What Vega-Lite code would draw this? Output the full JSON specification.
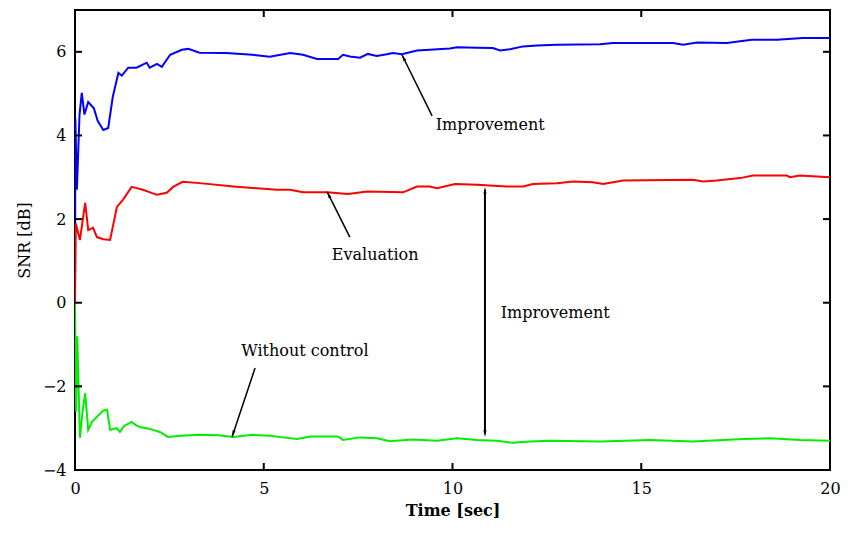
{
  "$schema": "https://vega.github.io/schema/vega-lite/v6.json",
  "width": 755,
  "height": 460,
  "autosize": {"type": "none"},
  "padding": {"left": 75, "top": 10, "right": 23, "bottom": 68},
  "background": "white",
  "config": {
    "view": {"stroke": "black", "strokeWidth": 2},
    "font": "DejaVu Serif",
    "axis": {"grid": false, "domain": false, "ticks": false, "labelFont": "DejaVu Serif", "labelFontSize": 16, "labelColor": "black", "titleFont": "DejaVu Serif", "titleFontSize": 16, "titleColor": "black"}
  },
  "datasets": {
    "xt": [{"v": 0}, {"v": 5}, {"v": 10}, {"v": 15}, {"v": 20}],
    "yt": [{"v": -4}, {"v": -2}, {"v": 0}, {"v": 2}, {"v": 4}, {"v": 6}],
    "curves": [
      {"t": 0, "snr": 0, "s": "Improvement"},
      {"t": 0.01, "snr": 4.4, "s": "Improvement"},
      {"t": 0.05, "snr": 2.7, "s": "Improvement"},
      {"t": 0.12, "snr": 4.5, "s": "Improvement"},
      {"t": 0.18, "snr": 5.02, "s": "Improvement"},
      {"t": 0.25, "snr": 4.5, "s": "Improvement"},
      {"t": 0.35, "snr": 4.8, "s": "Improvement"},
      {"t": 0.5, "snr": 4.65, "s": "Improvement"},
      {"t": 0.6, "snr": 4.35, "s": "Improvement"},
      {"t": 0.75, "snr": 4.13, "s": "Improvement"},
      {"t": 0.88, "snr": 4.18, "s": "Improvement"},
      {"t": 1.0, "snr": 4.92, "s": "Improvement"},
      {"t": 1.15, "snr": 5.5, "s": "Improvement"},
      {"t": 1.24, "snr": 5.43, "s": "Improvement"},
      {"t": 1.41, "snr": 5.62, "s": "Improvement"},
      {"t": 1.63, "snr": 5.62, "s": "Improvement"},
      {"t": 1.9, "snr": 5.74, "s": "Improvement"},
      {"t": 1.98, "snr": 5.62, "s": "Improvement"},
      {"t": 2.17, "snr": 5.71, "s": "Improvement"},
      {"t": 2.3, "snr": 5.64, "s": "Improvement"},
      {"t": 2.52, "snr": 5.93, "s": "Improvement"},
      {"t": 2.83, "snr": 6.05, "s": "Improvement"},
      {"t": 3.0, "snr": 6.07, "s": "Improvement"},
      {"t": 3.3, "snr": 5.98, "s": "Improvement"},
      {"t": 4.0, "snr": 5.97, "s": "Improvement"},
      {"t": 4.7, "snr": 5.93, "s": "Improvement"},
      {"t": 5.16, "snr": 5.88, "s": "Improvement"},
      {"t": 5.7, "snr": 5.97, "s": "Improvement"},
      {"t": 6.04, "snr": 5.93, "s": "Improvement"},
      {"t": 6.41, "snr": 5.83, "s": "Improvement"},
      {"t": 6.97, "snr": 5.83, "s": "Improvement"},
      {"t": 7.1, "snr": 5.93, "s": "Improvement"},
      {"t": 7.28, "snr": 5.89, "s": "Improvement"},
      {"t": 7.55, "snr": 5.86, "s": "Improvement"},
      {"t": 7.76, "snr": 5.95, "s": "Improvement"},
      {"t": 7.99, "snr": 5.9, "s": "Improvement"},
      {"t": 8.26, "snr": 5.94, "s": "Improvement"},
      {"t": 8.42, "snr": 5.97, "s": "Improvement"},
      {"t": 8.66, "snr": 5.94, "s": "Improvement"},
      {"t": 9.06, "snr": 6.03, "s": "Improvement"},
      {"t": 9.4, "snr": 6.05, "s": "Improvement"},
      {"t": 9.93, "snr": 6.08, "s": "Improvement"},
      {"t": 10.12, "snr": 6.11, "s": "Improvement"},
      {"t": 10.65, "snr": 6.1, "s": "Improvement"},
      {"t": 11.07, "snr": 6.09, "s": "Improvement"},
      {"t": 11.26, "snr": 6.03, "s": "Improvement"},
      {"t": 11.52, "snr": 6.06, "s": "Improvement"},
      {"t": 11.87, "snr": 6.13, "s": "Improvement"},
      {"t": 12.24, "snr": 6.15, "s": "Improvement"},
      {"t": 12.77, "snr": 6.17, "s": "Improvement"},
      {"t": 13.91, "snr": 6.18, "s": "Improvement"},
      {"t": 14.25, "snr": 6.21, "s": "Improvement"},
      {"t": 14.89, "snr": 6.21, "s": "Improvement"},
      {"t": 15.84, "snr": 6.21, "s": "Improvement"},
      {"t": 16.11, "snr": 6.17, "s": "Improvement"},
      {"t": 16.48, "snr": 6.22, "s": "Improvement"},
      {"t": 17.27, "snr": 6.21, "s": "Improvement"},
      {"t": 17.62, "snr": 6.25, "s": "Improvement"},
      {"t": 17.93, "snr": 6.29, "s": "Improvement"},
      {"t": 18.6, "snr": 6.29, "s": "Improvement"},
      {"t": 19.28, "snr": 6.33, "s": "Improvement"},
      {"t": 20, "snr": 6.33, "s": "Improvement"},

      {"t": 0, "snr": 0, "s": "Evaluation"},
      {"t": 0.02, "snr": 1.9, "s": "Evaluation"},
      {"t": 0.13, "snr": 1.5, "s": "Evaluation"},
      {"t": 0.27, "snr": 2.39, "s": "Evaluation"},
      {"t": 0.35, "snr": 1.74, "s": "Evaluation"},
      {"t": 0.48, "snr": 1.79, "s": "Evaluation"},
      {"t": 0.58, "snr": 1.57, "s": "Evaluation"},
      {"t": 0.75, "snr": 1.52, "s": "Evaluation"},
      {"t": 0.93, "snr": 1.5, "s": "Evaluation"},
      {"t": 1.11, "snr": 2.29, "s": "Evaluation"},
      {"t": 1.27, "snr": 2.46, "s": "Evaluation"},
      {"t": 1.5, "snr": 2.77, "s": "Evaluation"},
      {"t": 1.8, "snr": 2.7, "s": "Evaluation"},
      {"t": 2.17, "snr": 2.58, "s": "Evaluation"},
      {"t": 2.43, "snr": 2.63, "s": "Evaluation"},
      {"t": 2.6, "snr": 2.77, "s": "Evaluation"},
      {"t": 2.85, "snr": 2.89, "s": "Evaluation"},
      {"t": 3.3, "snr": 2.86, "s": "Evaluation"},
      {"t": 4.2, "snr": 2.78, "s": "Evaluation"},
      {"t": 5.35, "snr": 2.7, "s": "Evaluation"},
      {"t": 5.7, "snr": 2.7, "s": "Evaluation"},
      {"t": 6.04, "snr": 2.64, "s": "Evaluation"},
      {"t": 6.68, "snr": 2.64, "s": "Evaluation"},
      {"t": 7.23, "snr": 2.6, "s": "Evaluation"},
      {"t": 7.74, "snr": 2.66, "s": "Evaluation"},
      {"t": 8.69, "snr": 2.64, "s": "Evaluation"},
      {"t": 9.06, "snr": 2.78, "s": "Evaluation"},
      {"t": 9.4, "snr": 2.78, "s": "Evaluation"},
      {"t": 9.59, "snr": 2.74, "s": "Evaluation"},
      {"t": 10.07, "snr": 2.84, "s": "Evaluation"},
      {"t": 10.65, "snr": 2.82, "s": "Evaluation"},
      {"t": 11.44, "snr": 2.78, "s": "Evaluation"},
      {"t": 11.87, "snr": 2.78, "s": "Evaluation"},
      {"t": 12.13, "snr": 2.84, "s": "Evaluation"},
      {"t": 12.77, "snr": 2.86, "s": "Evaluation"},
      {"t": 13.19, "snr": 2.9, "s": "Evaluation"},
      {"t": 13.72, "snr": 2.88, "s": "Evaluation"},
      {"t": 13.99, "snr": 2.84, "s": "Evaluation"},
      {"t": 14.52, "snr": 2.92, "s": "Evaluation"},
      {"t": 16.37, "snr": 2.94, "s": "Evaluation"},
      {"t": 16.64, "snr": 2.9, "s": "Evaluation"},
      {"t": 17.0, "snr": 2.92, "s": "Evaluation"},
      {"t": 17.62, "snr": 2.98, "s": "Evaluation"},
      {"t": 17.96, "snr": 3.04, "s": "Evaluation"},
      {"t": 18.86, "snr": 3.04, "s": "Evaluation"},
      {"t": 18.94, "snr": 3.0, "s": "Evaluation"},
      {"t": 19.2, "snr": 3.04, "s": "Evaluation"},
      {"t": 20, "snr": 3.0, "s": "Evaluation"},

      {"t": 0, "snr": 0, "s": "Without control"},
      {"t": 0.03, "snr": -2.6, "s": "Without control"},
      {"t": 0.06, "snr": -0.8, "s": "Without control"},
      {"t": 0.13, "snr": -3.23, "s": "Without control"},
      {"t": 0.2, "snr": -2.6, "s": "Without control"},
      {"t": 0.27, "snr": -2.16, "s": "Without control"},
      {"t": 0.35, "snr": -3.04, "s": "Without control"},
      {"t": 0.45, "snr": -2.85, "s": "Without control"},
      {"t": 0.58, "snr": -2.73, "s": "Without control"},
      {"t": 0.75, "snr": -2.58, "s": "Without control"},
      {"t": 0.85, "snr": -2.56, "s": "Without control"},
      {"t": 0.93, "snr": -3.04, "s": "Without control"},
      {"t": 1.1, "snr": -3.0, "s": "Without control"},
      {"t": 1.19, "snr": -3.09, "s": "Without control"},
      {"t": 1.3, "snr": -2.95, "s": "Without control"},
      {"t": 1.5, "snr": -2.85, "s": "Without control"},
      {"t": 1.6, "snr": -2.92, "s": "Without control"},
      {"t": 1.72, "snr": -2.97, "s": "Without control"},
      {"t": 1.9, "snr": -3.0, "s": "Without control"},
      {"t": 2.07, "snr": -3.04, "s": "Without control"},
      {"t": 2.25, "snr": -3.09, "s": "Without control"},
      {"t": 2.46, "snr": -3.21, "s": "Without control"},
      {"t": 2.8, "snr": -3.18, "s": "Without control"},
      {"t": 3.3, "snr": -3.16, "s": "Without control"},
      {"t": 3.8, "snr": -3.17, "s": "Without control"},
      {"t": 4.2, "snr": -3.21, "s": "Without control"},
      {"t": 4.7, "snr": -3.16, "s": "Without control"},
      {"t": 5.17, "snr": -3.18, "s": "Without control"},
      {"t": 5.51, "snr": -3.22, "s": "Without control"},
      {"t": 5.88, "snr": -3.26, "s": "Without control"},
      {"t": 6.23, "snr": -3.2, "s": "Without control"},
      {"t": 6.97, "snr": -3.2, "s": "Without control"},
      {"t": 7.1, "snr": -3.28, "s": "Without control"},
      {"t": 7.55, "snr": -3.22, "s": "Without control"},
      {"t": 8.0, "snr": -3.24, "s": "Without control"},
      {"t": 8.34, "snr": -3.31, "s": "Without control"},
      {"t": 8.95, "snr": -3.27, "s": "Without control"},
      {"t": 9.59, "snr": -3.3, "s": "Without control"},
      {"t": 10.12, "snr": -3.24, "s": "Without control"},
      {"t": 10.65, "snr": -3.28, "s": "Without control"},
      {"t": 11.18, "snr": -3.3, "s": "Without control"},
      {"t": 11.6, "snr": -3.35, "s": "Without control"},
      {"t": 12.05, "snr": -3.32, "s": "Without control"},
      {"t": 12.58, "snr": -3.3, "s": "Without control"},
      {"t": 13.91, "snr": -3.32, "s": "Without control"},
      {"t": 15.23, "snr": -3.28, "s": "Without control"},
      {"t": 16.37, "snr": -3.32, "s": "Without control"},
      {"t": 17.7, "snr": -3.26, "s": "Without control"},
      {"t": 18.41, "snr": -3.24, "s": "Without control"},
      {"t": 19.2, "snr": -3.28, "s": "Without control"},
      {"t": 20, "snr": -3.3, "s": "Without control"}
    ],
    "arrows": [
      {"x1": 9.46, "y1": 4.47, "x2": 8.66, "y2": 5.93, "w": 1.5},
      {"x1": 7.28, "y1": 1.57, "x2": 6.68, "y2": 2.65, "w": 1.5},
      {"x1": 10.86, "y1": 2.7, "x2": 10.86, "y2": -3.14, "w": 2},
      {"x1": 4.77, "y1": -1.56, "x2": 4.16, "y2": -3.21, "w": 1.5}
    ],
    "heads": [
      {"x": 8.66, "y": 5.93, "angle": 333},
      {"x": 6.68, "y": 2.65, "angle": 333},
      {"x": 10.86, "y": 2.77, "angle": 0},
      {"x": 10.86, "y": -3.21, "angle": 180},
      {"x": 4.16, "y": -3.21, "angle": 198}
    ],
    "labels": [
      {"x": 11.0, "y": 4.25, "text": "Improvement"},
      {"x": 7.95, "y": 1.14, "text": "Evaluation"},
      {"x": 12.72, "y": -0.24, "text": "Improvement"},
      {"x": 6.09, "y": -1.15, "text": "Without control"}
    ]
  },
  "layer": [
    {
      "data": {"name": "curves"},
      "mark": {"type": "line", "strokeWidth": 2, "clip": true},
      "encoding": {
        "x": {"field": "t", "type": "quantitative", "scale": {"domain": [0, 20], "nice": false}, "axis": {"orient": "bottom", "title": "Time [sec]", "titleFontWeight": "bold", "values": [0, 5, 10, 15, 20], "labelPadding": 10, "titlePadding": 6, "labelFlush": false}},
        "y": {"field": "snr", "type": "quantitative", "scale": {"domain": [-4, 7], "nice": false, "zero": false}, "axis": {"orient": "left", "title": "SNR [dB]", "titleFontWeight": "normal", "values": [-4, -2, 0, 2, 4, 6], "labelPadding": 9, "titlePadding": 10}},
        "color": {"field": "s", "type": "nominal", "scale": {"domain": ["Improvement", "Evaluation", "Without control"], "range": ["#0000ff", "#ff0000", "#00ee00"]}, "legend": null},
        "detail": {"field": "s"}
      }
    },
    {
      "data": {"name": "xt"},
      "mark": {"type": "tick", "orient": "vertical", "size": 14, "thickness": 2, "color": "black", "opacity": 1, "clip": true},
      "encoding": {
        "x": {"field": "v", "type": "quantitative", "axis": null},
        "y": {"datum": -4, "type": "quantitative", "axis": null}
      }
    },
    {
      "data": {"name": "xt"},
      "mark": {"type": "tick", "orient": "vertical", "size": 14, "thickness": 2, "color": "black", "opacity": 1, "clip": true},
      "encoding": {
        "x": {"field": "v", "type": "quantitative", "axis": null},
        "y": {"datum": 7, "type": "quantitative", "axis": null}
      }
    },
    {
      "data": {"name": "yt"},
      "mark": {"type": "tick", "orient": "horizontal", "size": 14, "thickness": 2, "color": "black", "opacity": 1, "clip": true},
      "encoding": {
        "y": {"field": "v", "type": "quantitative", "axis": null},
        "x": {"datum": 0, "type": "quantitative", "axis": null}
      }
    },
    {
      "data": {"name": "yt"},
      "mark": {"type": "tick", "orient": "horizontal", "size": 14, "thickness": 2, "color": "black", "opacity": 1, "clip": true},
      "encoding": {
        "y": {"field": "v", "type": "quantitative", "axis": null},
        "x": {"datum": 20, "type": "quantitative", "axis": null}
      }
    },
    {
      "data": {"name": "arrows"},
      "mark": {"type": "rule", "color": "black"},
      "encoding": {
        "x": {"field": "x1", "type": "quantitative", "axis": null},
        "y": {"field": "y1", "type": "quantitative", "axis": null},
        "x2": {"field": "x2"},
        "y2": {"field": "y2"},
        "strokeWidth": {"field": "w", "type": "quantitative", "scale": null}
      }
    },
    {
      "data": {"name": "heads"},
      "mark": {"type": "point", "shape": "M0,0L0.45,2L-0.45,2Z", "filled": true, "color": "black", "size": 45, "opacity": 1},
      "encoding": {
        "x": {"field": "x", "type": "quantitative", "axis": null},
        "y": {"field": "y", "type": "quantitative", "axis": null},
        "angle": {"field": "angle", "type": "quantitative", "scale": null}
      }
    },
    {
      "data": {"name": "labels"},
      "mark": {"type": "text", "font": "DejaVu Serif", "fontSize": 16, "color": "black", "align": "center", "baseline": "middle"},
      "encoding": {
        "x": {"field": "x", "type": "quantitative", "axis": null},
        "y": {"field": "y", "type": "quantitative", "axis": null},
        "text": {"field": "text"}
      }
    }
  ],
  "resolve": {"axis": {"x": "independent", "y": "independent"}}
}
